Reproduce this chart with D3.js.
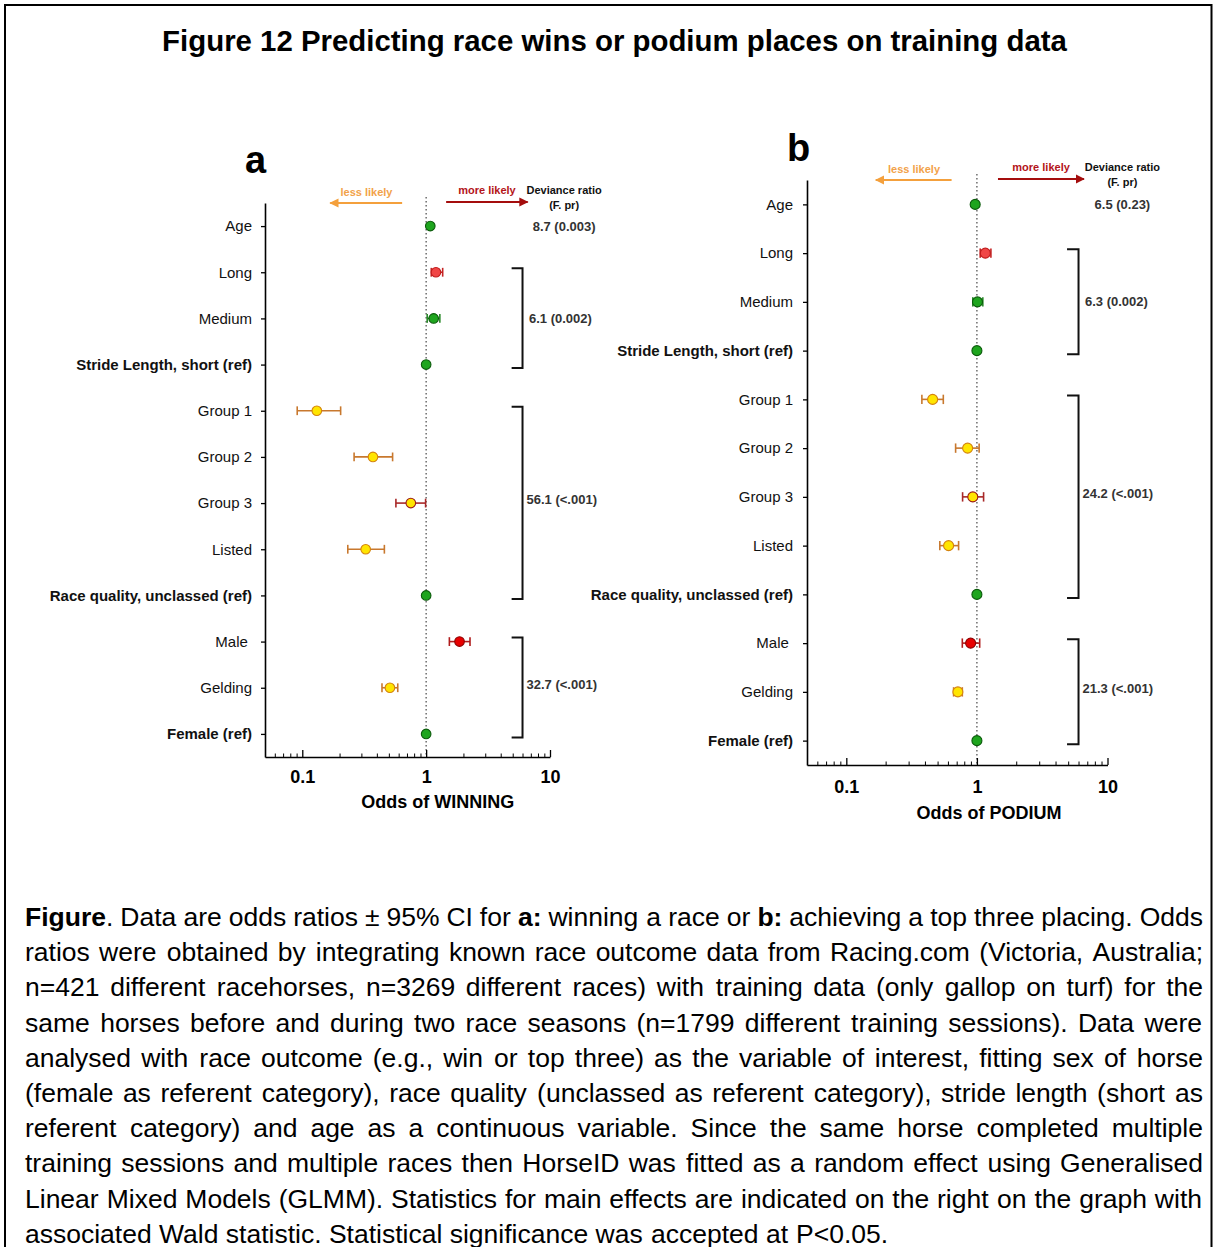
<!DOCTYPE html>
<html>
<head>
<meta charset="utf-8">
<script src="https://cdn.jsdelivr.net/npm/d3@7"></script>
<style>
  body { margin: 0; background: #fff; }
  svg text { font-family: "Liberation Sans", Arial, Helvetica, sans-serif; }
</style>
</head>
<body>
<svg id="fig" width="1214" height="1247"></svg>
<script>
// ---- data -------------------------------------------------------------
const rowLabels = ["Age", "Long", "Medium", "Stride Length, short (ref)",
  "Group 1", "Group 2", "Group 3", "Listed", "Race quality, unclassed (ref)",
  "Male ", "Gelding", "Female (ref)"];
// kind of estimate shown on each row (reference level, not significant, higher, lower ...)
const markerKind = ["ns", "pos", "ns", "ref", "neg", "neg", "negEdge", "neg", "ref", "posStrong", "neg", "ref"];

// a: odds of winning (odds ratio with lower / upper 95% CI)
const winOdds = [1.08, 1.20, 1.15, 1, 0.131, 0.372, 0.752, 0.325, 1, 1.86, 0.51, 1];
const winLow  = [1.08, 1.10, 1.02, 1, 0.091, 0.262, 0.570, 0.233, 1, 1.54, 0.44, 1];
const winHigh = [1.08, 1.36, 1.29, 1, 0.204, 0.536, 0.990, 0.460, 1, 2.26, 0.59, 1];

// b: odds of a podium (top three) place
const podOdds = [0.97, 1.16, 1.01, 1, 0.458, 0.849, 0.930, 0.607, 1, 0.895, 0.715, 1];
const podLow  = [0.97, 1.06, 0.93, 1, 0.379, 0.687, 0.777, 0.520, 1, 0.773, 0.663, 1];
const podHigh = [0.97, 1.28, 1.11, 1, 0.553, 1.040, 1.125, 0.724, 1, 1.050, 0.773, 1];

const xDomain = [0.05, 10];
const xTickValues = [0.1, 1, 10];
const xTickLabels = ["0.1", "1", "10"];

// main effects: first and last row of each factor, with deviance ratio (F. pr)
const factorRows = [[0, 0], [1, 3], [4, 8], [9, 11]];
const winStats = ["8.7 (0.003)", "6.1 (0.002)", "56.1 (<.001)", "32.7 (<.001)"];
const podStats = ["6.5 (0.23)", "6.3 (0.002)", "24.2 (<.001)", "21.3 (<.001)"];

const titleText = "Figure 12 Predicting race wins or podium places on training data";
const captionLines = [
  "**Figure**. Data are odds ratios ± 95% CI for **a:** winning a race or **b:** achieving a top three placing. Odds",
  "ratios were obtained by integrating known race outcome data from Racing.com (Victoria, Australia;",
  "n=421 different racehorses, n=3269 different races) with training data (only gallop on turf) for the",
  "same horses before and during two race seasons (n=1799 different training sessions). Data were",
  "analysed with race outcome (e.g., win or top three) as the variable of interest, fitting sex of horse",
  "(female as referent category), race quality (unclassed as referent category), stride length (short as",
  "referent category) and age as a continuous variable. Since the same horse completed multiple",
  "training sessions and multiple races then HorseID was fitted as a random effect using Generalised",
  "Linear Mixed Models (GLMM). Statistics for main effects are indicated on the right on the graph with",
  "associated Wald statistic. Statistical significance was accepted at P<0.05."
];

// ---- marker styling ---------------------------------------------------
const markerStyle = {
  ref:       { fill: "#1ea51e", stroke: "#0b5a0b", bar: "#2a8a2a" },
  ns:        { fill: "#1ea51e", stroke: "#0b5a0b", bar: "#2a8a2a" },
  pos:       { fill: "#f04646", stroke: "#c01c1c", bar: "#c42424" },
  posStrong: { fill: "#e80000", stroke: "#8e0000", bar: "#b01c1c" },
  neg:       { fill: "#ffe500", stroke: "#d4830f", bar: "#c8782e" },
  negEdge:   { fill: "#ffe500", stroke: "#9c1a14", bar: "#a82828" }
};

const svg = d3.select("#fig");
svg.append("rect").attr("width", 1214).attr("height", 1247).attr("fill", "#fff");

// outer frame
svg.append("path")
  .attr("d", "M5,1247 V5 H1211.5 V1247")
  .attr("fill", "none").attr("stroke", "#000").attr("stroke-width", 2);

svg.append("text")
  .attr("x", 614.5).attr("y", 51)
  .attr("text-anchor", "middle")
  .attr("font-size", 29.4).attr("font-weight", "bold")
  .attr("fill", "#000")
  .text(titleText);

// ---- one forest panel ------------------------------------------------
function drawPanel(cfg) {
  const g = svg.append("g");
  const x = d3.scaleLog().domain(xDomain).range([cfg.left, cfg.right]);
  const idx = d3.range(rowLabels.length);
  const y = d3.scalePoint().domain(idx).range([cfg.top, cfg.bottom]).padding(0.5);

  // panel letter
  g.append("text")
    .attr("x", cfg.letterX).attr("y", cfg.letterY)
    .attr("font-size", 38).attr("font-weight", "bold").attr("fill", "#000")
    .text(cfg.letter);

  // reference line at odds ratio 1
  g.append("line")
    .attr("x1", x(1)).attr("x2", x(1))
    .attr("y1", cfg.top - 6).attr("y2", cfg.bottom)
    .attr("stroke", "#555").attr("stroke-width", 1.3)
    .attr("stroke-dasharray", "1.4,2.6");

  // x axis: minor ticks then major ticks, all pointing into the plot
  const minor = [];
  [0.01, 0.1, 1].forEach(d => d3.range(2, 10).forEach(k => {
    const v = d * k;
    if (v >= xDomain[0] && v <= xDomain[1]) minor.push(v);
  }));
  const axMinor = g.append("g")
    .attr("transform", `translate(0,${cfg.bottom})`)
    .call(d3.axisBottom(x).tickValues(minor).tickSize(-3.5).tickSizeOuter(0).tickFormat(""));
  axMinor.select(".domain").remove();
  axMinor.selectAll("line").attr("stroke", "#000").attr("stroke-width", 1);

  const axMajor = g.append("g")
    .attr("transform", `translate(0,${cfg.bottom})`)
    .call(d3.axisBottom(x).tickValues(xTickValues).tickSize(-7).tickSizeOuter(0)
      .tickPadding(cfg.tickPad)
      .tickFormat((d, i) => xTickLabels[i]));
  axMajor.select(".domain").attr("stroke", "#000").attr("stroke-width", 1.6);
  axMajor.selectAll("line").attr("stroke", "#000").attr("stroke-width", 1.3);
  axMajor.selectAll("text")
    .attr("font-size", 18).attr("font-weight", "bold").attr("fill", "#000")
    .attr("font-family", "Liberation Sans, Arial, sans-serif");

  g.append("text")
    .attr("x", x(1.24)).attr("y", cfg.bottom + cfg.titleDy)
    .attr("text-anchor", "middle")
    .attr("font-size", 18).attr("font-weight", "bold").attr("fill", "#000")
    .text(cfg.axisTitle);

  // y axis with row labels
  const ay = g.append("g")
    .attr("transform", `translate(${cfg.left},0)`)
    .call(d3.axisLeft(y).tickSize(4).tickSizeOuter(0).tickPadding(cfg.labelPad)
      .tickFormat(i => rowLabels[i]));
  ay.select(".domain").attr("stroke", "#000").attr("stroke-width", 1.6);
  ay.selectAll("line").attr("stroke", "#000").attr("stroke-width", 1.3);
  ay.selectAll("text")
    .attr("font-size", 15)
    .attr("font-family", "Liberation Sans, Arial, sans-serif")
    .attr("fill", "#111")
    .style("white-space", "pre")
    .attr("font-weight", i => rowLabels[i].includes("(ref)") ? "bold" : "normal");

  // direction arrows
  const arrowY = cfg.top;
  const defs = svg.append("defs");
  const mk = (id, col) => defs.append("marker")
    .attr("id", id).attr("viewBox", "0 0 10 10")
    .attr("refX", 9).attr("refY", 5)
    .attr("markerWidth", 4.2).attr("markerHeight", 4.2)
    .attr("markerUnits", "strokeWidth")
    .attr("orient", "auto")
    .append("path").attr("d", "M0,0 L10,5 L0,10 Z").attr("fill", col);
  mk("less" + cfg.letter, "#f4a03c");
  mk("more" + cfg.letter, "#a40d0d");

  g.append("line")
    .attr("x1", x(0.64)).attr("x2", x(0.168))
    .attr("y1", arrowY).attr("y2", arrowY)
    .attr("stroke", "#f4a03c").attr("stroke-width", 2.2)
    .attr("marker-end", `url(#less${cfg.letter})`);
  g.append("line")
    .attr("x1", x(1.45)).attr("x2", x(6.6))
    .attr("y1", arrowY - 1).attr("y2", arrowY - 1)
    .attr("stroke", "#a40d0d").attr("stroke-width", 2.2)
    .attr("marker-end", `url(#more${cfg.letter})`);
  g.append("text")
    .attr("x", x(0.33)).attr("y", arrowY - 7.5)
    .attr("text-anchor", "middle").attr("font-size", 11).attr("font-weight", "bold")
    .attr("fill", "#f2a24a").text("less likely");
  g.append("text")
    .attr("x", x(3.1)).attr("y", arrowY - 9)
    .attr("text-anchor", "middle").attr("font-size", 11).attr("font-weight", "bold")
    .attr("fill", "#b3141a").text("more likely");

  // statistics header
  g.append("text")
    .attr("x", x(13)).attr("y", arrowY - 9)
    .attr("text-anchor", "middle").attr("font-size", 11).attr("font-weight", "bold")
    .attr("fill", "#111").text("Deviance ratio");
  g.append("text")
    .attr("x", x(13)).attr("y", arrowY + 6)
    .attr("text-anchor", "middle").attr("font-size", 11).attr("font-weight", "bold")
    .attr("fill", "#111").text("(F. pr)");

  // factor brackets and statistics
  factorRows.forEach(([r0, r1], k) => {
    if (r0 === r1) {
      g.append("text")
        .attr("x", x(13)).attr("y", y(r0) + 4.5)
        .attr("text-anchor", "middle").attr("font-size", 13).attr("font-weight", "bold")
        .attr("fill", "#333").text(cfg.stats[k]);
      return;
    }
    const y0 = y(r0) - 4, y1 = y(r1) + 3.5;
    g.append("path")
      .attr("d", `M${x(4.9)},${y0} H${x(6)} V${y1} H${x(4.9)}`)
      .attr("fill", "none").attr("stroke", "#111").attr("stroke-width", 2);
    g.append("text")
      .attr("x", x(6) + (k === 1 ? 6.5 : 4)).attr("y", (y0 + y1) / 2 + (k === 1 ? 4.5 : 1.5))
      .attr("font-size", 13).attr("font-weight", "bold")
      .attr("fill", "#333").text(cfg.stats[k]);
  });

  // confidence intervals
  const rows = idx.map(i => ({
    i, odds: cfg.odds[i], low: cfg.low[i], high: cfg.high[i], st: markerStyle[markerKind[i]]
  }));
  const ci = g.selectAll(".ci").data(rows.filter(d => d.low < d.high)).join("g");
  ci.append("line")
    .attr("x1", d => x(d.low)).attr("x2", d => x(d.high))
    .attr("y1", d => y(d.i)).attr("y2", d => y(d.i))
    .attr("stroke", d => d.st.bar).attr("stroke-width", 1.6);
  ["low", "high"].forEach(end => {
    ci.append("line")
      .attr("x1", d => x(d[end])).attr("x2", d => x(d[end]))
      .attr("y1", d => y(d.i) - cfg.cap).attr("y2", d => y(d.i) + cfg.cap)
      .attr("stroke", d => d.st.bar).attr("stroke-width", 1.6);
  });

  // point estimates
  g.selectAll(".pt").data(rows).join("circle")
    .attr("cx", d => x(d.odds)).attr("cy", d => y(d.i))
    .attr("r", cfg.r)
    .attr("fill", d => d.st.fill)
    .attr("stroke", d => d.st.stroke).attr("stroke-width", 1.1);
}

drawPanel({
  letter: "a", letterX: 245, letterY: 173,
  left: 265, right: 550, top: 203, bottom: 757,
  tickPad: 13.5, titleDy: 51, labelPad: 9, cap: 4.4, r: 4.8,
  axisTitle: "Odds of WINNING",
  odds: winOdds, low: winLow, high: winHigh, stats: winStats
});

drawPanel({
  letter: "b", letterX: 787, letterY: 161,
  left: 807, right: 1107.5, top: 180, bottom: 765,
  tickPad: 15.5, titleDy: 53.5, labelPad: 10, cap: 4.7, r: 5,
  axisTitle: "Odds of PODIUM",
  odds: podOdds, low: podLow, high: podHigh, stats: podStats
});

// ---- justified caption: one text node per word, placed after measuring ----
const capLeft = 25, capRight = 1203, capTop = 926, capStep = 35.2, capSize = 26.5;
function segments(word) {
  const out = [];
  const re = /\*\*(.+?)\*\*/g;
  let last = 0, m;
  while ((m = re.exec(word))) {
    if (m.index > last) out.push({ t: word.slice(last, m.index), b: false });
    out.push({ t: m[1], b: true });
    last = re.lastIndex;
  }
  if (last < word.length) out.push({ t: word.slice(last), b: false });
  return out;
}
const cap = svg.append("g").attr("font-size", capSize).attr("fill", "#000");
captionLines.forEach((line, li) => {
  const yLine = capTop + li * capStep;
  const nodes = line.split(" ").map(word => {
    const t = cap.append("text").attr("x", capLeft).attr("y", yLine);
    segments(word).forEach(s =>
      t.append("tspan").attr("font-weight", s.b ? "bold" : "normal").text(s.t));
    return t;
  });
  const widths = nodes.map(n => n.node().getBBox().width);
  const total = d3.sum(widths);
  const lastLine = li === captionLines.length - 1;
  const gap = lastLine ? capSize * 0.278 : (capRight - capLeft - total) / (nodes.length - 1);
  let xPos = capLeft;
  nodes.forEach((n, wi) => {
    n.attr("x", xPos);
    xPos += widths[wi] + gap;
  });
});
</script>
</body>
</html>
